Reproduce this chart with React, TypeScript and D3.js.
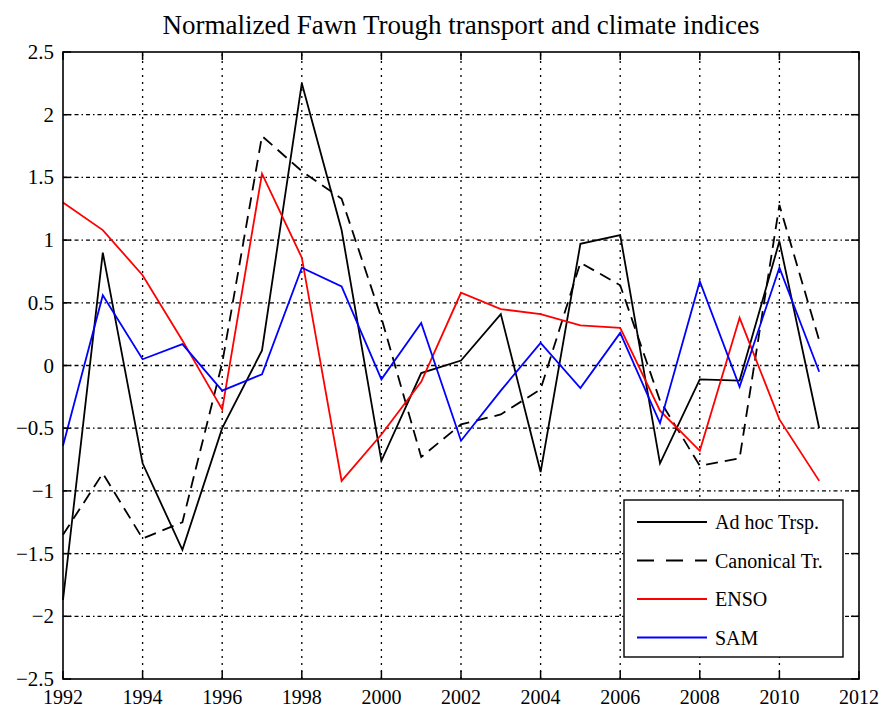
import * as d3 from 'd3';

const years = d3.range(1992, 2012);
const adHoc = [-1.87, 0.9, -0.78, -1.47, -0.5, 0.12, 2.25, 1.08, -0.76, -0.06, 0.04, 0.41, -0.85, 0.97, 1.04, -0.78, -0.11, -0.12, 0.99, -0.5];
const canonical = [-1.35, -0.86, -1.38, -1.25, 0.02, 1.83, 1.55, 1.33, 0.38, -0.73, -0.47, -0.39, -0.19, 0.82, 0.64, -0.28, -0.8, -0.74, 1.28, 0.2];
const enso = [1.3, 1.08, 0.72, 0.2, -0.35, 1.53, 0.86, -0.92, -0.55, -0.13, 0.58, 0.45, 0.41, 0.32, 0.3, -0.36, -0.68, 0.38, -0.43, -0.92];
const sam = [-0.64, 0.56, 0.05, 0.17, -0.2, -0.07, 0.78, 0.63, -0.11, 0.34, -0.6, -0.2, 0.18, -0.18, 0.26, -0.46, 0.67, -0.17, 0.78, -0.05];

const xTicks = d3.range(1992, 2013, 2);
const yTicks = [-2.5, -2, -1.5, -1, -0.5, 0, 0.5, 1, 1.5, 2, 2.5];

const series = [
  { name: 'Ad hoc Trsp.', values: adHoc, color: '#000', dash: null as string | null },
  { name: 'Canonical Tr.', values: canonical, color: '#000', dash: '12,7' },
  { name: 'ENSO', values: enso, color: '#ff0000', dash: null },
  { name: 'SAM', values: sam, color: '#0000ff', dash: null },
];

const W = 885;
const H = 710;
const m = { left: 63, right: 26, top: 52, bottom: 31 };
const font = '"Liberation Serif", "Times New Roman", serif';

const fmt = (v: number) => (v < 0 ? '\u2212' + String(-v) : String(v));

export default function App() {
  const x = d3.scaleLinear().domain([1992, 2012]).range([m.left, W - m.right]);
  const y = d3.scaleLinear().domain([-2.5, 2.5]).range([H - m.bottom, m.top]);
  const line = d3
    .line<number>()
    .x((_, i) => x(years[i]))
    .y(d => y(d));

  const x0 = x(1992), x1 = x(2012), y0 = y(-2.5), y1 = y(2.5);
  const tick = 8;

  const lg = { x: 624, y: 500, w: 219, h: 157, row: 38.5 };

  return (
    <svg width={W} height={H} style={{ position: 'absolute', left: 0, top: 0, background: '#fff' }} fontFamily={font}>
      <rect width={W} height={H} fill="#fff" />
      <text x={(x0 + x1) / 2} y={34} textAnchor="middle" fontSize={27}>
        Normalized Fawn Trough transport and climate indices
      </text>

      {/* grid */}
      {xTicks.slice(1, -1).map(t => (
        <line key={'gx' + t} x1={x(t)} x2={x(t)} y1={y0} y2={y1} stroke="#000" strokeWidth={1.3} strokeDasharray="2,5" />
      ))}
      {yTicks.slice(1, -1).map(t => (
        <line key={'gy' + t} x1={x0} x2={x1} y1={y(t)} y2={y(t)} stroke="#000" strokeWidth={1.3} strokeDasharray="4,3,1.5,3" />
      ))}

      {/* series */}
      {series.map(s => (
        <path key={s.name} d={line(s.values) ?? ''} fill="none" stroke={s.color} strokeWidth={1.8}
          strokeDasharray={s.dash ?? undefined} strokeLinejoin="miter" />
      ))}

      {/* ticks */}
      {xTicks.map(t => (
        <g key={'tx' + t}>
          <line x1={x(t)} x2={x(t)} y1={y0} y2={y0 - tick} stroke="#000" strokeWidth={1.5} />
          <line x1={x(t)} x2={x(t)} y1={y1} y2={y1 + tick} stroke="#000" strokeWidth={1.5} />
          <text x={x(t)} y={H - 6} textAnchor="middle" fontSize={20}>{t}</text>
        </g>
      ))}
      {yTicks.map(t => (
        <g key={'ty' + t}>
          <line x1={x0} x2={x0 + tick} y1={y(t)} y2={y(t)} stroke="#000" strokeWidth={1.5} />
          <line x1={x1} x2={x1 - tick} y1={y(t)} y2={y(t)} stroke="#000" strokeWidth={1.5} />
          <text x={x0 - 9} y={y(t) + 7} textAnchor="end" fontSize={21}>{fmt(t)}</text>
        </g>
      ))}

      <rect x={x0} y={y1} width={x1 - x0} height={y0 - y1} fill="none" stroke="#000" strokeWidth={1.6} />

      {/* legend */}
      <rect x={lg.x} y={lg.y} width={lg.w} height={lg.h} fill="#fff" stroke="#000" strokeWidth={1.4} />
      {series.map((s, i) => {
        const ly = lg.y + 22 + i * lg.row;
        return (
          <g key={'lg' + s.name}>
            <line x1={lg.x + 13} x2={lg.x + 83} y1={ly} y2={ly} stroke={s.color} strokeWidth={1.8}
              strokeDasharray={s.dash ? '17,12' : undefined} />
            <text x={lg.x + 91} y={ly + 7} fontSize={20}>{s.name}</text>
          </g>
        );
      })}
    </svg>
  );
}
